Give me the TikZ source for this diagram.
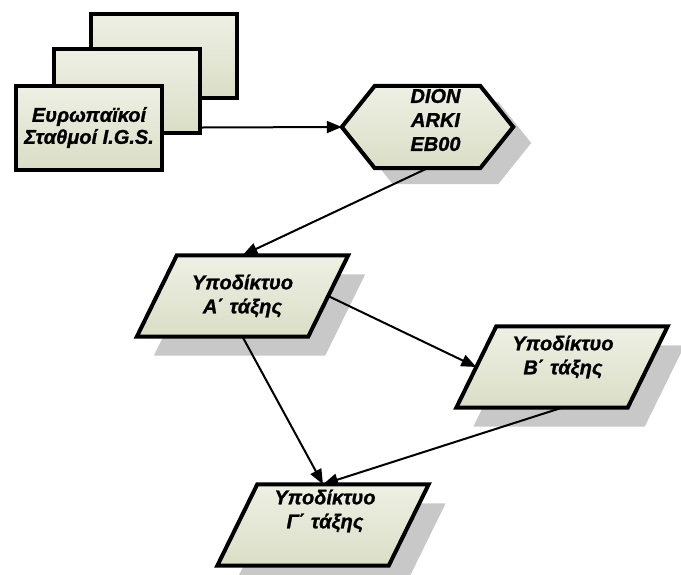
\documentclass[tikz,border=0pt]{standalone}
\usepackage{fontspec}
\setmainfont{Liberation Sans}[BoldItalicFeatures={FakeBold=1.2}]
\usetikzlibrary{arrows.meta,calc}
\pgfdeclarelayer{background}
\pgfsetlayers{background,main}
\definecolor{boxlight}{RGB}{238,240,228}
\definecolor{boxdark}{RGB}{218,222,198}
\definecolor{shadowgray}{RGB}{200,200,200}

\begin{document}
\begin{tikzpicture}[x=1pt,y=-1pt,
  every node/.style={font=\fontsize{20}{24}\selectfont\bfseries\itshape, align=center},
  boxfill/.style={top color=boxlight, bottom color=boxdark},
  border/.style={draw=black, line width=4pt, line join=miter},
  stackbox/.style={rectangle, border, boxfill, minimum width=146pt, minimum height=84pt, inner sep=0pt},
  frame/.style={rectangle, inner sep=0pt},
  pgframe/.style={frame, minimum width=211pt, minimum height=81pt},
  hexframe/.style={frame, minimum width=171pt, minimum height=82pt},
  hexoutline/.style={insert path={(hex.west) -- ($(hex.north west)+(33,0)$) -- ($(hex.north east)+(-33,0)$)
    -- (hex.east) -- ($(hex.south east)+(-33,0)$) -- ($(hex.south west)+(33,0)$) -- cycle}},
  pgoutline/.style={insert path={(#1.south west) -- ($(#1.south east)+(-40,0)$) -- (#1.north east)
    -- ($(#1.north west)+(40,0)$) -- cycle}},
  dropshade/.style={fill=shadowgray, transform canvas={shift={(17pt,-19pt)}}},
  conn/.style={line width=2pt, -{Triangle[length=15pt,width=12pt]}},
]
\useasboundingbox (0,0) rectangle (681,574);

% stacked station sheets
\node[stackbox] (back) at (164,55.5) {};
\node[stackbox] (mid) at (127,90.5) {};
\node[stackbox, font=\fontsize{20}{22}\selectfont\bfseries\itshape] (front) at (89,127.5) {Ευρωπαϊκοί\\Σταθμοί I.G.S.};

% reference stations hexagon
\node[hexframe] (hex) at (427.5,127) {};
\node (hextxt) at ($(hex.center)+(8,-7)$) {\fontsize{20}{20}\selectfont DION\\ARKI\\EB00};

% sub-network frames and labels
\node[pgframe] (A) at (242.5,296) {};
\node (Atxt) at (A.center) {Υποδίκτυο\\Α΄ τάξης};
\node[pgframe] (B) at (562,367) {};
\node (Btxt) at ($(B.center)+(1,-10)$) {Υποδίκτυο\\Β΄ τάξης};
\node[pgframe] (G) at (323,525) {};
\node (Gtxt) at ($(G.center)+(2,-14)$) {Υποδίκτυο\\Γ΄ τάξης};

% outlines, fills and shadows behind the labels
\begin{pgfonlayer}{background}
  \fill[shadowgray, transform canvas={shift={(18pt,-16pt)}}, hexoutline];
  \path[border, boxfill, hexoutline];
  \foreach \n in {A,B,G} {
    \fill[dropshade, pgoutline=\n];
    \path[border, boxfill, pgoutline=\n];
  }
\end{pgfonlayer}

% connectors
\draw[conn] (front.east -| mid.east) -- (hex.west);
\draw[conn] (hex.south) -- (A.north);
\draw[conn] ($(A.east)+(-20,0)$) -- ($(B.west)+(20,0)$);
\draw[conn] (A.south) -- (G.north);
\draw[conn] (B.south) -- (G.north);
\end{tikzpicture}
\end{document}
